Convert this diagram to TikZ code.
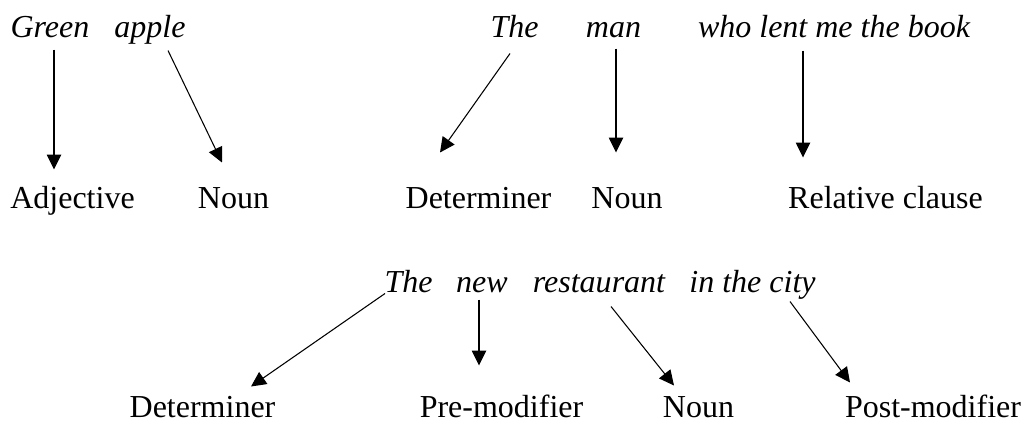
\documentclass[tikz,border=0pt]{standalone}
\usepackage{fontspec}
\setmainfont{Liberation Serif}
\usepackage{tikz}
\usetikzlibrary{arrows.meta, calc}
\tikzstyle{word} = [font=\fontsize{12}{14}\selectfont\itshape, anchor=base]
\tikzstyle{wordclass} = [font=\fontsize{12}{14}\selectfont, anchor=base]
\tikzstyle{arrow} = [line width=0.4pt, -{Triangle[length=5.6pt, width=5.4pt]}]

\begin{document}
\begin{tikzpicture}[x=0.375pt, y=-0.375pt, every node/.style={inner sep=0pt, text height=8.5pt, text depth=2.5pt}]
    \useasboundingbox (0,0) rectangle (1026,422);

    % Green apple
    \node[word] (green) at (50,37) {Green};
    \node[word] (apple) at (150,37) {apple};
    \node[wordclass] (adj) at (72.5,208) {Adjective};
    \node[wordclass] (nounA) at (233.5,208) {Noun};

    % The man who lent me the book
    \node[word] (theA) at (514.5,37) {The};
    \node[word] (man) at (613.5,37) {man};
    \node[word] (who) at (834,37) {who lent me the book};
    \node[wordclass] (detA) at (478.5,208) {Determiner};
    \node[wordclass] (nounB) at (627,208) {Noun};
    \node[wordclass] (rel) at (885.5,208) {Relative clause};

    % The new restaurant in the city
    \node[word] (theB) at (408.5,292) {The};
    \node[word] (new) at (482,292) {new};
    \node[word] (rest) at (599,292) {restaurant};
    \node[word] (city) at (752.5,292) {in the city};
    \node[wordclass] (detB) at (202.5,417) {Determiner};
    \node[wordclass] (pre) at (501.5,417) {Pre-modifier};
    \node[wordclass] (nounC) at (698.5,417) {Noun};
    \node[wordclass] (post) at (933,417) {Post-modifier};

    % Arrows
    \draw[arrow] ([shift={(4,5.3)}]green.south) -- ([shift={(-18.5,-15.3)}]adj.north);
    \draw[arrow] ([shift={(18,6.3)}]apple.south) -- ([shift={(-11.5,-22.3)}]nounA.north);
    \draw[arrow] ([shift={(-4.5,9.3)}]theA.south) -- ([shift={(-38.5,-32.3)}]detA.north);
    \draw[arrow] ([shift={(2.5,4.3)}]man.south) -- ([shift={(-11,-32.3)}]nounB.north);
    \draw[arrow] ([shift={(-31,6.3)}]who.south) -- ([shift={(-82.5,-27.3)}]rel.north);
    \draw[arrow] ([shift={(-23.5,-5.7)}]theB.south) -- ([shift={(48.5,-7.3)}]detB.north);
    \draw[arrow] ([shift={(-3,0.3)}]new.south) -- ([shift={(-22.5,-28.3)}]pre.north);
    \draw[arrow] ([shift={(12,7.3)}]rest.south) -- ([shift={(-24.5,-8.3)}]nounC.north);
    \draw[arrow] ([shift={(37.5,2.3)}]city.south) -- ([shift={(-83,-11.3)}]post.north);
\end{tikzpicture}
\end{document}
